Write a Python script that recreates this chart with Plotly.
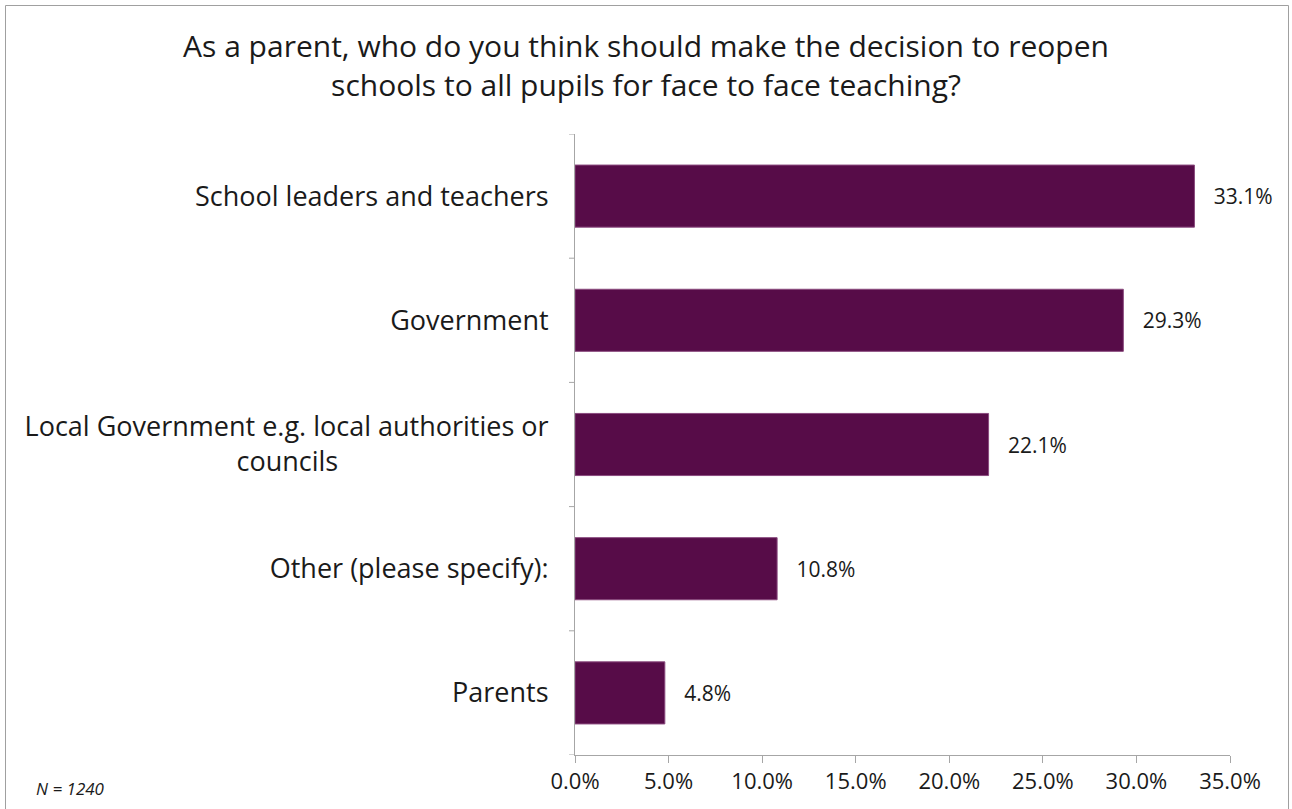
import plotly.graph_objects as go

categories = [
    "Parents",
    "Other (please specify):",
    "Local Government e.g. local authorities or<br>councils",
    "Government",
    "School leaders and teachers",
]
values = [4.8, 10.8, 22.1, 29.3, 33.1]
x_ticks = [0, 5, 10, 15, 20, 25, 30, 35]
title_text = ("As a parent, who do you think should make the decision to reopen<br>"
              "schools to all pupils for face to face teaching?")
note_text = "N = 1240"

W, H = 1292, 809
L, R, T, B = 575, 62, 134, 54
PW, PH = W - L - R, H - T - B

def px_x(p):
    return (p - L) / PW

def px_y(p):
    return (H - B - p) / PH

FONT = "Open Sans"
TXT = "#1a1a1a"
AX = "#a6a6a6"

# centre the second line of the wrapped label by padding with non-breaking spaces
ticktext = []
for c in categories:
    if "<br>" in c:
        a, b = c.split("<br>")
        c = a + "<br>" + b + "\u00a0" * 30
    ticktext.append(c)

fig = go.Figure(
    go.Bar(
        x=values,
        y=list(range(len(categories))),
        orientation="h",
        marker=dict(color="#570c48", line=dict(color="#8a4a7e", width=1)),
        width=0.5,
        text=["\u00a0\u00a0\u00a0" + f"{v:.1f}%" for v in values],
        textposition="outside",
        textfont=dict(family=FONT, size=21, color=TXT),
        constraintext="none",
        cliponaxis=False,
        hoverinfo="skip",
    )
)

fig.update_layout(
    width=W,
    height=H,
    margin=dict(l=L, r=R, t=T, b=B, pad=0),
    paper_bgcolor="white",
    plot_bgcolor="white",
    showlegend=False,
    font=dict(family=FONT, color=TXT),
    title=dict(
        text=title_text,
        x=0.5,
        xref="container",
        xanchor="center",
        y=1 - 57 / H,
        yref="container",
        yanchor="middle",
        font=dict(family=FONT, size=30, color=TXT),
    ),
    xaxis=dict(
        range=[0, 35],
        tickvals=x_ticks,
        ticktext=[f"{t:.1f}%" for t in x_ticks],
        showgrid=False,
        zeroline=False,
        showline=True,
        linecolor=AX,
        linewidth=1,
        ticks="outside",
        ticklen=7,
        tickcolor=AX,
        tickfont=dict(family=FONT, size=22, color=TXT),
        fixedrange=True,
    ),
    yaxis=dict(
        tickvals=list(range(len(categories))),
        ticktext=ticktext,
        range=[-0.5, len(categories) - 0.5],
        showgrid=False,
        zeroline=False,
        showline=True,
        linecolor=AX,
        linewidth=1,
        ticks="",
        tickfont=dict(family=FONT, size=27, color=TXT),
        ticklabelstandoff=20,
        fixedrange=True,
    ),
    shapes=[
        dict(
            type="rect",
            xref="paper",
            yref="paper",
            x0=px_x(5.5),
            x1=px_x(1288.5),
            y0=px_y(830),
            y1=px_y(5.5),
            line=dict(color="#a0a0a0", width=1),
            fillcolor="rgba(0,0,0,0)",
            layer="below",
        )
    ]
    + [
        dict(
            type="line",
            xref="paper",
            yref="y",
            x0=px_x(569),
            x1=0,
            y0=b - 0.5,
            y1=b - 0.5,
            line=dict(color=AX, width=1),
        )
        for b in range(len(categories) + 1)
    ],
    annotations=[
        dict(
            text=note_text,
            xref="paper",
            yref="paper",
            x=px_x(34),
            y=px_y(788),
            xanchor="left",
            yanchor="middle",
            showarrow=False,
            font=dict(family=FONT, size=17, color=TXT, style="italic"),
        )
    ],
)

fig.write_html(
    "out.html",
    config={"displayModeBar": False},
    post_script="document.body.style.margin='0';",
)
